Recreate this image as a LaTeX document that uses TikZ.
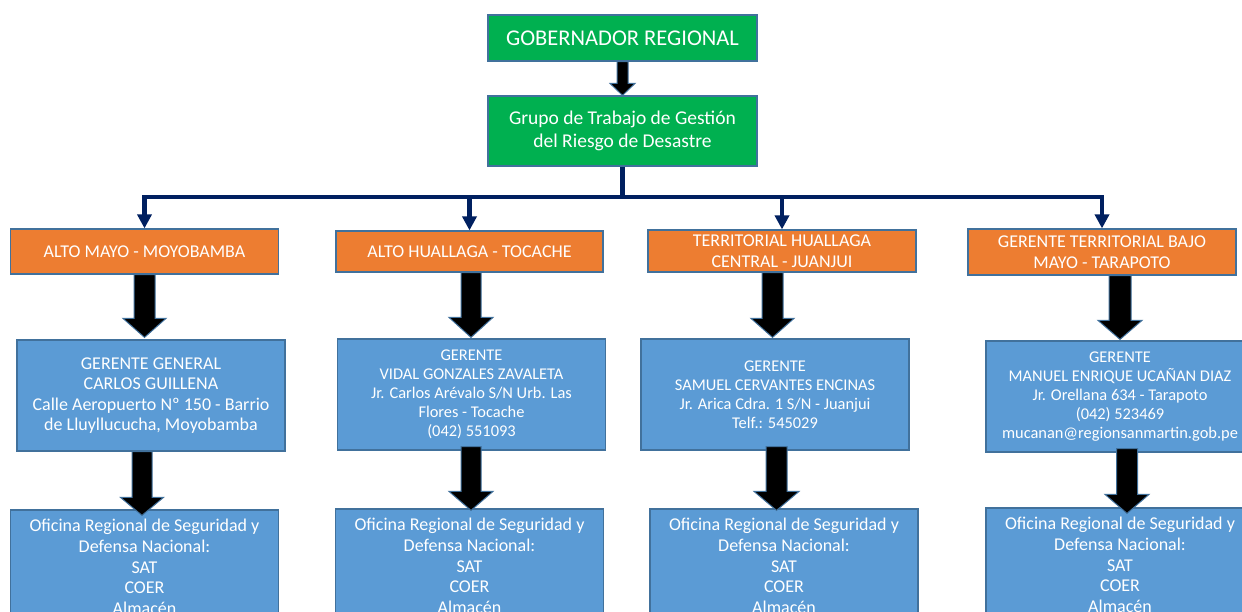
\documentclass[tikz,border=0pt]{standalone}
\usepackage{fontspec}
\setmainfont{Carlito}
\usetikzlibrary{arrows.meta,calc}
\definecolor{gobgreen}{HTML}{00B050}
\definecolor{regorange}{HTML}{ED7D31}
\definecolor{offblue}{HTML}{5B9BD5}
\definecolor{edgeblue}{HTML}{41719C}
\definecolor{busnavy}{HTML}{002060}
\tikzset{
  box/.style={draw=edgeblue, line width=1.2pt, text=white, align=center, inner sep=0pt, minimum width=268pt},
  greenbox/.style={box, fill=gobgreen},
  orangebox/.style={box, fill=regorange, minimum height=44pt, font=\fontsize{18}{21}\selectfont},
  bluebox/.style={box, fill=offblue, minimum height=111pt},
  officebox/.style={box, fill=offblue, minimum height=114pt, font=\fontsize{18}{20.7}\selectfont},
  busline/.style={draw=busnavy, line width=4.5pt, miter limit=10},
  barrow/.style={fill=black, draw=edgeblue, line width=1pt, line join=miter},
}
% src, dst, x centre, shaft half width, head half width, head length, top overlap, tip overlap
\newcommand\blockarrow[8]{%
  \path let \p1=(#1.south), \p2=(#2.north) in
    [barrow] ({#3pt-#4pt},{\y1+(#7pt)}) -- ({#3pt+#4pt},{\y1+(#7pt)})
    -- ({#3pt+#4pt},{\y2-(#8pt)+#6pt}) -- ({#3pt+#5pt},{\y2-(#8pt)+#6pt})
    -- ({#3pt},{\y2-(#8pt)}) -- ({#3pt-#5pt},{\y2-(#8pt)+#6pt})
    -- ({#3pt-#4pt},{\y2-(#8pt)+#6pt}) -- cycle;}
\begin{document}
\begin{tikzpicture}[x=1pt, y=-1pt]
\useasboundingbox (0,0) rectangle (1242,612);
\fill[white] (0,0) rectangle (1242,612);
\clip (0,0) rectangle (1242,612);

% top
\node[greenbox, minimum width=269pt, minimum height=46pt, font=\fontsize{22.5}{27}\selectfont] (gob) at (622.5,38) {GOBERNADOR REGIONAL};
\node[greenbox, minimum width=269pt, minimum height=70pt, font=\fontsize{19.5}{23.5}\selectfont] (grupo) at (622.5,131) {Grupo de Trabajo de Gestión\\del Riesgo de Desastre};

% regional offices (orange)
\node[orangebox, minimum height=45pt] (o1) at (144.5,251.5) {ALTO MAYO - MOYOBAMBA};
\node[orangebox, minimum width=267pt, minimum height=41pt] (o2) at (469.5,251.5) {ALTO HUALLAGA - TOCACHE};
\node[orangebox, minimum height=42pt] (o3) at (782,251) {TERRITORIAL HUALLAGA\\CENTRAL - JUANJUI};
\node[orangebox, minimum height=46pt] (o4) at (1102,252) {GERENTE TERRITORIAL BAJO\\MAYO - TARAPOTO};

% managers (blue)
\node[bluebox, font=\fontsize{18}{20.5}\selectfont] (b1) at (151,395.5) {GERENTE GENERAL\\CARLOS GUILLENA\\Calle Aeropuerto Nº 150 - Barrio\\de Lluyllucucha, Moyobamba};
\node[bluebox, font=\fontsize{16.4}{19}\selectfont] (b2) at (471.5,394.5) {GERENTE\\VIDAL GONZALES ZAVALETA\\Jr. Carlos Arévalo S/N Urb. Las\\Flores - Tocache\\(042) 551093};
\node[bluebox, font=\fontsize{16.4}{19}\selectfont] (b3) at (775,394.5) {GERENTE\\SAMUEL CERVANTES ENCINAS\\Jr. Arica Cdra. 1 S/N - Juanjui\\Telf.: 545029};
\node[bluebox, font=\fontsize{16.4}{19}\selectfont] (b4) at (1120,396.5) {GERENTE\\MANUEL ENRIQUE UCAÑAN DIAZ\\Jr. Orellana 634 - Tarapoto\\(042) 523469\\mucanan@regionsanmartin.gob.pe};

% offices (blue, bottom)
\node[officebox] (c1) at (144.5,567) {Oficina Regional de Seguridad y\\Defensa Nacional:\\SAT\\COER\\Almacén};
\node[officebox] (c2) at (469.5,566) {Oficina Regional de Seguridad y\\Defensa Nacional:\\SAT\\COER\\Almacén};
\node[officebox] (c3) at (784,566) {Oficina Regional de Seguridad y\\Defensa Nacional:\\SAT\\COER\\Almacén};
\node[officebox] (c4) at (1120,565) {Oficina Regional de Seguridad y\\Defensa Nacional:\\SAT\\COER\\Almacén};

% navy bus
\coordinate (bus) at (622.5,197);
\draw[busline] (grupo.south) -- (bus);
\foreach \n in {o1,o2,o3,o4}
  \draw[busline, -{Triangle[length=14pt,width=14pt]}] (bus) -| (\n.north);

% block arrows
\blockarrow{gob}{grupo}{622.5}{5.5}{12.5}{12}{0}{0}
\blockarrow{o1}{b1}{144.5}{10.5}{21.5}{19}{0}{-2}
\blockarrow{o2}{b2}{471}{10}{22}{20}{0}{-1}
\blockarrow{o3}{b3}{772.5}{10.5}{21.5}{19}{0}{-1}
\blockarrow{o4}{b4}{1120}{11}{22}{19}{0}{-1}
\blockarrow{b1}{c1}{142}{10}{21.5}{18}{0}{6}
\blockarrow{b2}{c2}{471}{10}{22}{19}{4}{2}
\blockarrow{b3}{c3}{776.5}{10.5}{22.5}{19}{4}{2}
\blockarrow{b4}{c4}{1127}{10.5}{22}{19}{4}{6}
\end{tikzpicture}
\end{document}
